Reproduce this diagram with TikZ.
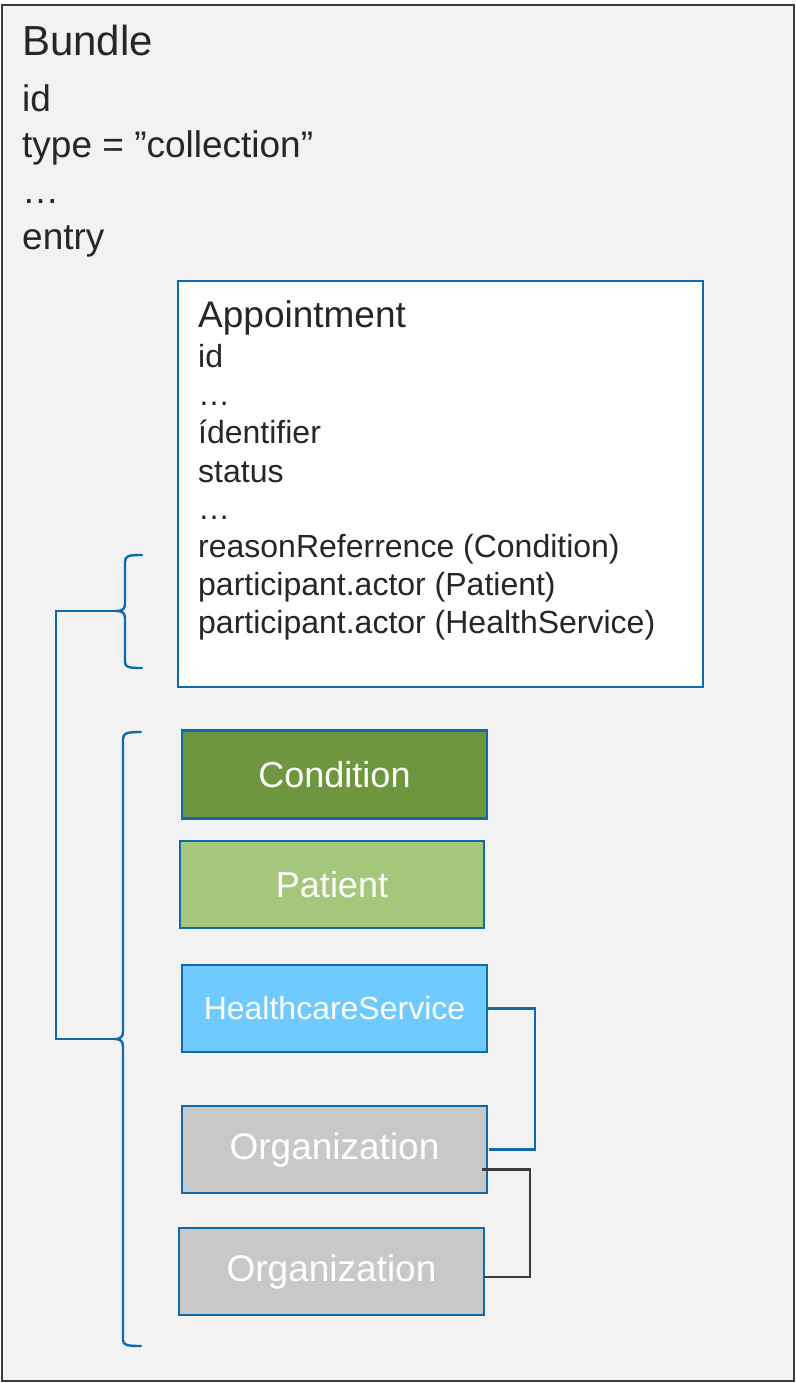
\documentclass[tikz,border=0pt]{standalone}
\usepackage{fontspec}
\setmainfont{Liberation Sans}
\usetikzlibrary{calc}
\definecolor{framegray}{HTML}{3B3B3B}
\definecolor{bggray}{HTML}{F2F2F2}
\definecolor{linkblue}{HTML}{0E6AAD}
\definecolor{txtdark}{HTML}{262626}
\definecolor{conddark}{HTML}{6E963E}
\definecolor{patlight}{HTML}{A5C77C}
\definecolor{hsblue}{HTML}{6FCBFF}
\definecolor{orggray}{HTML}{C8C8C8}
\tikzset{
  txtline/.style={anchor=base west, inner sep=0pt, text=txtdark},
  resbox/.style={draw=linkblue, line width=2.4pt, inner sep=0pt, outer sep=0pt,
    minimum width=305pt, minimum height=88pt, text=white},
  conn/.style={draw=linkblue, line width=2.4pt},
  brace/.style={draw=linkblue, line width=2.4pt, line cap=round},
}
\begin{document}
\begin{tikzpicture}[x=1pt, y=-1pt]
\useasboundingbox (0,0) rectangle (795,1383);
% outer Bundle frame
\draw[fill=bggray, draw=framegray, line width=2.4pt] (2,5) rectangle (794,1381);

% Bundle attributes
\node[txtline, font=\fontsize{42}{50}\selectfont] (bt) at (22,56) {Bundle};
\node[txtline, font=\fontsize{37}{44}\selectfont] (bid) at (22,112) {id};
\node[txtline, font=\fontsize{37}{44}\selectfont] (btype) at (22,158) {type = ”collection”};
\node[txtline, font=\fontsize{37}{44}\selectfont] (bdots) at (22,204) {…};
\node[txtline, font=\fontsize{37}{44}\selectfont] (bentry) at (22,249) {entry};

% Appointment resource
\node[draw=linkblue, fill=white, line width=2.4pt, inner sep=0pt, outer sep=0pt,
  minimum width=525pt, minimum height=406pt] (appt) at (440.5,484) {};
\node[txtline, font=\fontsize{37}{44}\selectfont] (at) at (198,327) {Appointment};
\foreach \t/\yy [count=\i] in {id/367, …/405, ídentifier/443, status/482, …/519,
  reasonReferrence (Condition)/557, participant.actor (Patient)/595,
  participant.actor (HealthService)/633}
  \node[txtline, font=\fontsize{32}{38}\selectfont] (a\i) at (198,\yy) {\t};

% referenced resources
\node[resbox, fill=conddark, font=\fontsize{36}{42}\selectfont] (cond) at (334.5,774.5) {Condition};
\node[resbox, fill=patlight, minimum width=304pt, minimum height=87pt,
  font=\fontsize{36}{42}\selectfont] (pat) at (332,884.5) {Patient};
\node[resbox, fill=hsblue, minimum height=87pt, font=\fontsize{32}{38}\selectfont] (hs) at (334.5,1008.5) {HealthcareService};
\node[resbox, fill=orggray, minimum height=87pt, font=\fontsize{37}{44}\selectfont] (org1) at (334.5,1149.5) {Organization};
\node[resbox, fill=orggray, minimum height=87pt, font=\fontsize{37}{44}\selectfont] (org2) at (331.5,1271.5) {Organization};

% brace around the reference attributes
\coordinate (b1) at (117,611);
\draw[brace] (142,555) .. controls (128,555) and (125,556) .. (125,562)
  -- (125,604) .. controls (125,609) and (122,611) .. (b1)
  .. controls (122,611) and (125,613) .. (125,618)
  -- (125,662) .. controls (125,667) and (128,668) .. (142,668);
% brace around the referenced resources
\coordinate (b2) at (115,1039);
\draw[brace] (141,732) .. controls (127,732) and (123,733) .. (123,739)
  -- (123,1032) .. controls (123,1037) and (120,1039) .. (b2)
  .. controls (120,1039) and (123,1041) .. (123,1046)
  -- (123,1340) .. controls (123,1345) and (127,1346) .. (141,1346);

% link between the two braces
\draw[conn] (b1) -- (56,611) |- (b2);

% HealthcareService -> Organization
\draw[conn] (hs.east) -- (535,1008.5) |- ([xshift=2pt]org1.east);
% Organization -> Organization
\draw[draw=framegray, line width=2.4pt] ([xshift=-5pt, yshift=-20pt]org1.east)
  -- (530,1169.5) |- ([yshift=-5.5pt]org2.east);
\end{tikzpicture}
\end{document}
